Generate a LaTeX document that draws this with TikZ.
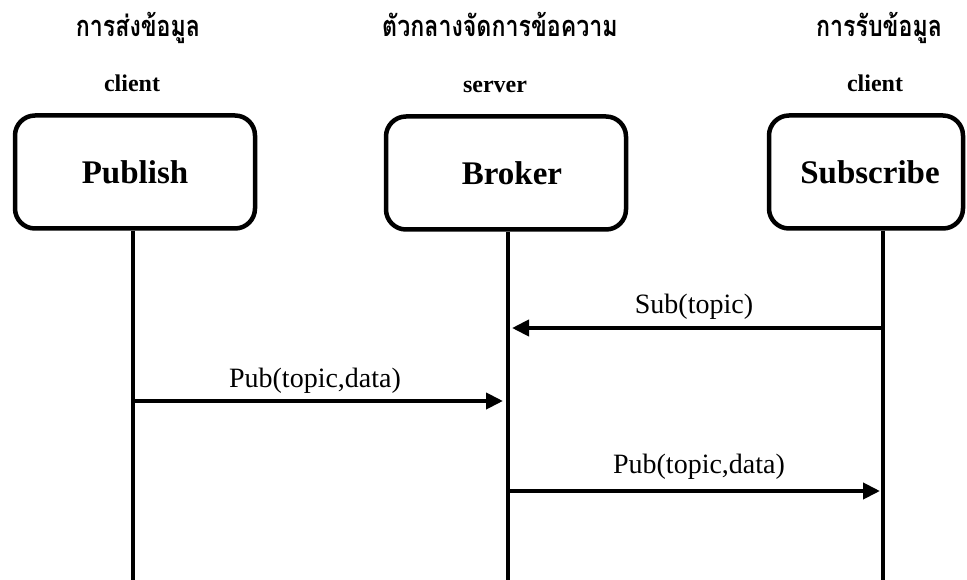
\documentclass[tikz,border=0pt]{standalone}
\usepackage{fontspec}
\setmainfont{Liberation Serif}
\newfontfamily\thaifont[Script=Thai,FakeStretch=0.8]{Loma}
\usetikzlibrary{arrows.meta}
\begin{document}
\begin{tikzpicture}[x=1pt,y=-1pt,
  actor/.style={draw, line width=4.5pt, rounded corners=20pt, minimum height=113pt, inner sep=0pt,
    font=\fontsize{33}{36}\selectfont\bfseries},
  lifeline/.style={line width=4.5pt},
  msg/.style={line width=4pt, -{Triangle[length=17pt,width=16pt]}},
  thaititle/.style={font=\thaifont\bfseries\fontsize{29}{32}\selectfont, anchor=base, inner sep=0pt},
  role/.style={font=\fontsize{24}{28}\selectfont\bfseries, anchor=base, inner sep=0pt},
  msglabel/.style={font=\fontsize{28}{32}\selectfont, anchor=base, inner sep=0pt}]
\useasboundingbox (0,0) rectangle (967,580);
% titles
\node[thaititle] (t1) at (138,37) {การส่งข้อมูล};
\node[thaititle] (t2) at (500,37) {ตัวกลางจัดการข้อความ};
\node[thaititle] (t3) at (879,37) {การรับข้อมูล};
\node[role] (r1) at (132,92) {client};
\node[role] (r2) at (495,93) {server};
\node[role] (r3) at (875,92) {client};
% actors
\node[actor, minimum width=240pt] (pub) at (135,172) {Publish};
\node[actor, minimum width=240pt] (bro) at (506,173) {\hspace*{12pt}Broker};
\node[actor, minimum width=194pt] (sub) at (866,172) {\hspace*{8pt}Subscribe};
% lifelines
\coordinate (e1) at (133,580);
\coordinate (e2) at (508,580);
\coordinate (e3) at (883,580);
\draw[lifeline] (pub.south -| e1) -- (e1);
\draw[lifeline] (bro.south -| e2) -- (e2);
\draw[lifeline] (sub.south -| e3) -- (e3);
% messages
\coordinate (m1a) at (883,328);
\coordinate (m1b) at (508,328);
\coordinate (m2a) at (133,401);
\coordinate (m2b) at (508,401);
\coordinate (m3a) at (508,491);
\coordinate (m3b) at (883,491);
\draw[msg, shorten >=4pt] (m1a) -- (m1b);
\draw[msg, shorten >=5pt] (m2a) -- (m2b);
\draw[msg, shorten >=3pt] (m3a) -- (m3b);
\node[msglabel] (l1) at (694,313) {Sub(topic)};
\node[msglabel] (l2) at (315,387) {Pub(topic,data)};
\node[msglabel] (l3) at (699,473) {Pub(topic,data)};
\end{tikzpicture}
\end{document}
